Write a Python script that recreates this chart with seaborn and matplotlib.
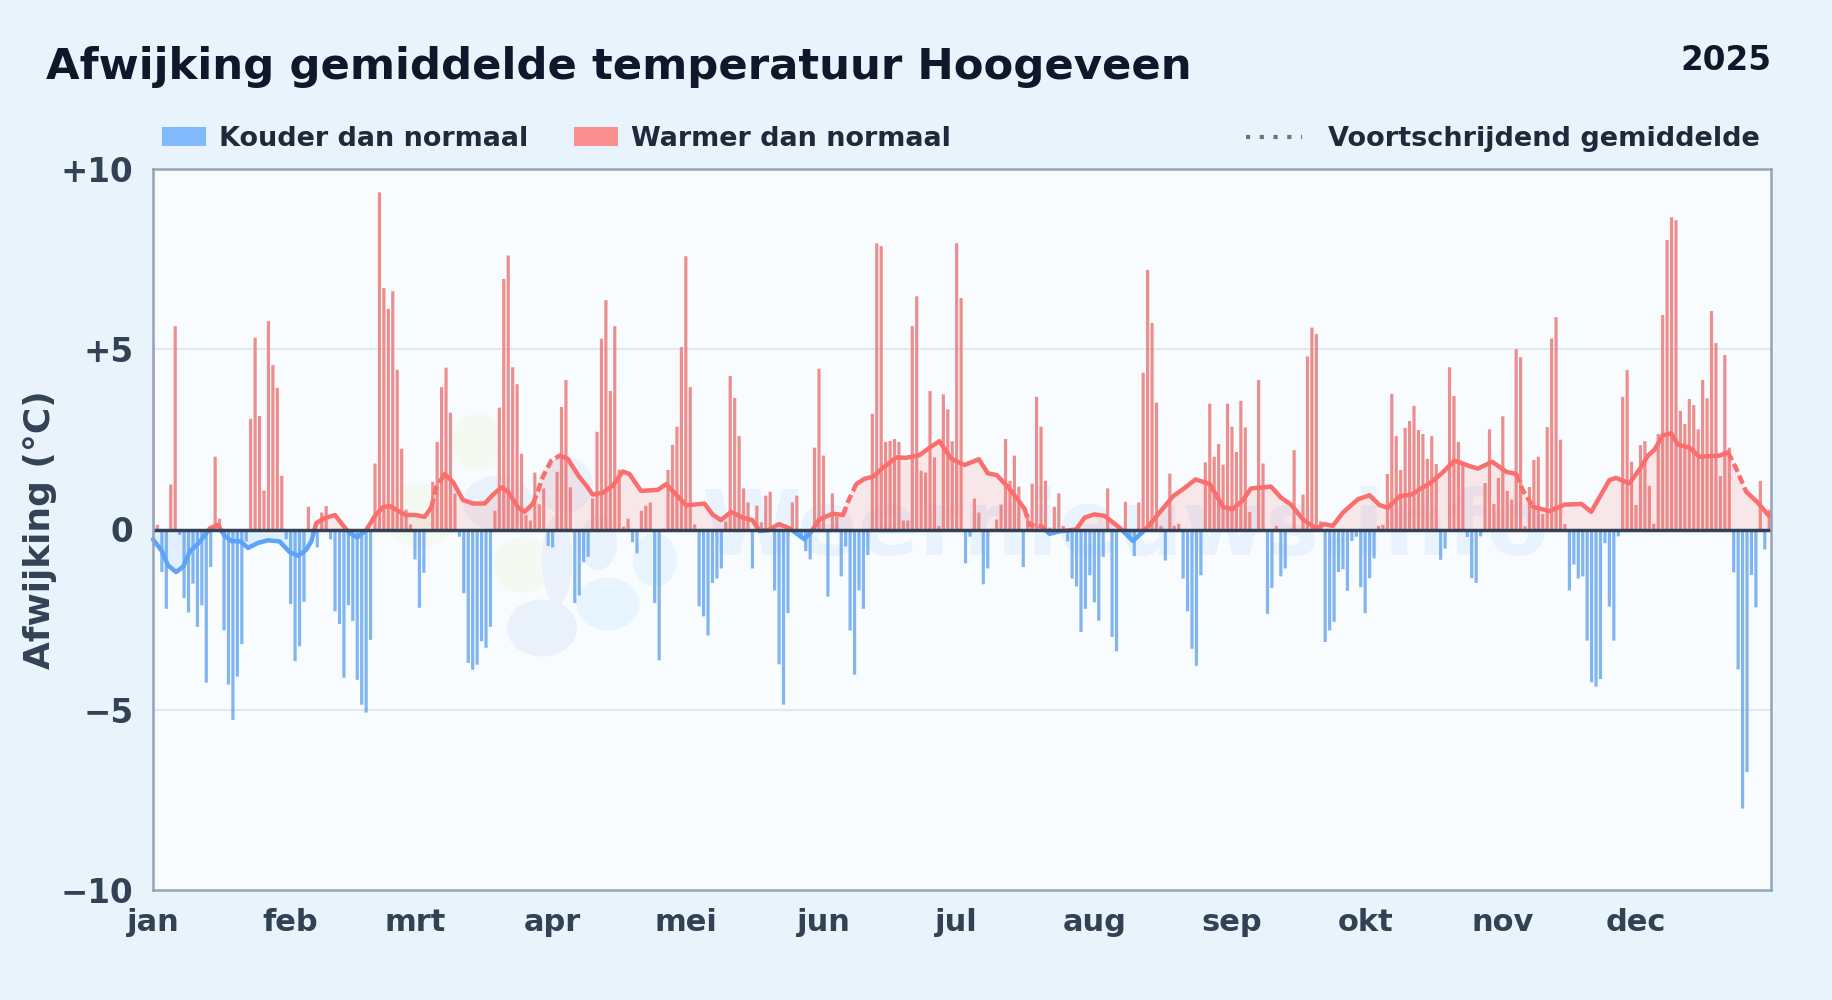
import numpy as np
import pandas as pd
import matplotlib
matplotlib.use("Agg")
import matplotlib.pyplot as plt
from matplotlib.patches import Ellipse, Patch, Rectangle
from matplotlib.lines import Line2D
import seaborn as sns

month_labels = ["jan", "feb", "mrt", "apr", "mei", "jun", "jul", "aug", "sep", "okt", "nov", "dec"]
month_starts = [0, 31, 59, 90, 120, 151, 181, 212, 243, 273, 304, 334]

jan = [5.14,0.13,-1.18,-2.2,1.25,5.64,-0.15,-1.9,-2.3,-1.5,-2.7,-2.1,-4.25,-1.04,2.02,0.3,-2.8,-4.3,-5.28,-4.08,-3.18,-0.33,3.07,5.32,3.15,1.08,5.78,4.56,3.93,1.49,-0.27]
feb = [-2.07,-3.65,-3.24,-2.0,0.63,-0.08,-0.5,0.47,0.65,-0.27,-2.27,-2.62,-4.11,-2.1,-2.54,-4.17,-4.86,-5.08,-3.06,1.83,9.35,6.7,6.12,6.61,4.43,2.24,0.55,0.14]
mrt = [-0.83,-2.17,-1.2,-0.05,1.32,2.43,3.95,4.49,3.24,1.0,-0.2,-1.77,-3.7,-3.89,-3.75,-3.1,-3.28,-2.7,0.52,3.38,6.95,7.6,4.5,4.03,2.1,0.4,0.25,1.58,0.7,1.14,-0.46]
apr = [-0.5,1.6,3.4,4.15,1.17,-2.04,-1.83,-0.91,-0.76,0.86,2.71,5.29,6.36,3.84,5.64,1.66,0.08,0.3,-0.35,-0.66,0.52,0.66,0.75,-2.04,-3.63,0.02,1.65,2.35,2.85,5.06]
mei = [7.58,3.95,0.14,-2.13,-2.41,-2.94,-1.48,-1.36,-1.08,0.22,4.26,3.65,2.59,1.14,0.75,-1.08,0.66,0.2,0.94,1.05,-1.69,-3.74,-4.86,-2.32,0.75,0.94,-0.2,-0.6,-0.83,2.27,4.46]
jun = [2.05,-1.86,1.0,0.36,-1.3,-0.47,-2.8,-4.03,-1.69,-2.2,-0.71,3.21,7.94,7.86,2.43,2.46,2.51,2.43,0.25,0.25,5.64,6.47,1.63,1.58,3.84,2.0,0.1,3.75,3.33,2.45]
jul = [7.94,6.42,-0.94,-0.2,0.86,0.47,-1.52,-1.08,0.02,0.28,0.69,2.51,1.35,2.05,1.19,-1.04,0.43,1.27,3.68,2.85,1.35,0.05,0.63,1.0,0.1,-0.33,-1.36,-1.58,-2.84,-2.2,-1.27]
aug = [-2.02,-2.53,-0.76,1.14,-2.98,-3.38,0.02,0.77,-0.22,-0.74,0.75,4.35,7.2,5.73,3.52,0.1,-0.86,1.55,0.1,0.16,-1.36,-2.27,-3.31,-3.78,-1.27,1.86,3.49,2.02,2.37,1.8,3.49]
sep = [2.85,2.15,3.57,2.83,0.49,-0.05,4.15,1.83,-2.34,-1.62,0.1,-1.3,-1.08,0.02,2.2,0.02,0.97,4.8,5.6,5.42,0.23,-3.12,-2.8,-2.56,-1.18,-1.1,-1.7,-0.32,-0.2,-1.6]
okt = [-2.32,-1.35,-0.8,0.1,0.13,1.54,3.76,2.59,1.65,2.82,3.01,3.43,2.76,2.65,1.96,2.59,1.82,-0.84,-0.53,4.5,3.7,2.43,1.8,-0.21,-1.35,-1.48,-0.19,1.29,2.78,0.71,1.43]
nov = [3.14,1.07,0.83,5.0,4.78,0.09,1.18,1.93,2.02,0.43,2.84,5.3,5.89,2.49,0.15,-1.69,-0.97,-1.36,-1.3,-3.08,-4.24,-4.36,-4.15,-0.38,-2.14,-3.08,-0.19,3.68,4.42,1.88]
dec = [0.68,2.34,2.45,1.21,0.16,2.65,5.95,8.03,8.66,8.58,3.29,2.93,3.62,3.45,2.78,4.15,3.64,6.06,5.17,1.48,4.84,2.27,-1.19,-3.88,-7.74,-6.73,-1.26,-2.16,1.35,-0.55,0.55]

ma_days = [0,2,3.4,5.2,6.8,8.3,10.5,12.8,14.6,16.1,17.6,19.7,21.4,23.7,25.9,28.5,30.8,32.7,34.5,35.7,36.2,36.8,38.7,41,43,44.3,46,48,50,51.8,53.3,55.2,57,59.3,61.2,62.7,63.8,65.7,67.6,69.8,72.1,74.7,76.6,78.5,80,82.2,83.7,85.6,86.7,87.8,89.7,91.6,93.4,96,97.6,99,101.3,103.6,105.8,107.3,109.9,113.7,115.6,117.8,120.1,124.2,126,127.9,130.2,132.8,135,136.6,138.5,141,143.4,146.7,148.2,150.1,153.1,155.4,156.7,158.4,160.3,162.1,164.4,167.4,169.6,172.6,174.9,177.1,179.8,182.8,186,188,190,192.5,194.8,196.3,197.4,200,201.9,204.2,207.9,209.8,212,214.3,217.7,220.7,223.7,226.7,229.7,232,234.8,238,241,243.2,245.5,247.3,251.8,254,256.3,259,262,263.8,265.7,268,271.4,274,276.2,278.1,280.7,283.4,287.5,290.1,293.1,296.5,298.4,301.6,304.8,307,308.5,310.8,314.5,317.9,321.7,323.9,328,329.5,332.5,334.7,336.7,338.2,340,341.9,343.4,346,348.3,352.8,354.7,356.5,358.8,361.4,364]
ma_vals = [-0.27,-0.6,-1.0,-1.18,-1.03,-0.61,-0.35,0.03,0.13,-0.17,-0.32,-0.33,-0.51,-0.37,-0.3,-0.33,-0.63,-0.73,-0.56,-0.32,-0.07,0.18,0.32,0.4,0.08,-0.1,-0.22,-0.02,0.38,0.62,0.65,0.52,0.4,0.4,0.35,0.62,1.17,1.54,1.31,0.82,0.72,0.72,0.97,1.17,1.04,0.62,0.49,0.72,1.07,1.46,1.91,2.05,1.96,1.46,1.22,0.97,1.02,1.22,1.61,1.54,1.07,1.1,1.26,0.97,0.67,0.72,0.42,0.26,0.49,0.33,0.26,-0.04,-0.02,0.15,0.03,-0.27,-0.07,0.28,0.44,0.4,0.82,1.26,1.41,1.46,1.71,2.0,1.99,2.06,2.27,2.45,1.96,1.79,1.95,1.56,1.51,1.19,0.82,0.57,0.13,0.1,-0.12,-0.05,0,0.33,0.42,0.38,0.05,-0.32,0.03,0.47,0.92,1.12,1.39,1.26,0.62,0.57,0.82,1.14,1.19,0.89,0.69,0.28,0.03,0.15,0.1,0.47,0.84,0.95,0.68,0.6,0.92,0.97,1.28,1.54,1.91,1.76,1.69,1.88,1.6,1.54,1.09,0.63,0.51,0.69,0.71,0.49,1.37,1.43,1.28,1.65,2.05,2.22,2.61,2.67,2.36,2.27,2.02,2.05,2.14,1.71,1.05,0.75,0.37]
dashed_spans = [(62.7, 65.7), (85.6, 91.6), (155.4, 158.4), (196.3, 200), (307, 310.8), (354.7, 358.8)]

sns.set_theme(style="white")
plt.rcParams["font.family"] = ["DejaVu Sans"]
plt.rcParams["font.weight"] = "bold"

values = jan + feb + mrt + apr + mei + jun + jul + aug + sep + okt + nov + dec
df = pd.DataFrame({"day": np.arange(len(values)), "afwijking": values})
df["soort"] = np.where(df["afwijking"] < 0, "koud", "warm")
ma = pd.DataFrame({"day": ma_days, "gem": ma_vals})

BG = "#E8F3FC"
fig = plt.figure(figsize=(18.32, 10), dpi=100, facecolor=BG)
ax = fig.add_axes([153/1832, 1-890/1000, (1771-153)/1832, (890-169)/1000], facecolor="#F8FCFF")

# faint logo watermark
def blob(cx, cy, w, h, col):
    ax.add_patch(Ellipse((cx/1832, 1-cy/1000), w/1832, h/1000, transform=fig.transFigure,
                         facecolor=col, edgecolor="none", zorder=0.5))
GREEN, GREY, LIGHT = "#F4FAF2", "#E9F2FA", "#E9F5FE"
blob(477, 442, 50, 58, GREEN)
blob(420, 515, 74, 64, GREEN)
blob(523, 565, 60, 56, GREEN)
blob(565, 485, 56, 56, LIGHT)
blob(608, 604, 63, 53, LIGHT)
blob(655, 560, 44, 54, LIGHT)
blob(498, 503, 70, 55, GREY)
blob(542, 628, 70, 57, GREY)
blob(557, 560, 30, 90, GREY)
blob(598, 543, 38, 54, GREY)
ax.text(1125/1832, 1-530/1000, "Weernieuws.info", transform=fig.transFigure, ha="center", va="center",
        fontsize=64.7, fontweight="bold", color="#60A5FA", alpha=0.1, zorder=0.6)

for y in (-5, 5):
    ax.axhline(y, color="#E2E8F0", lw=1.5, zorder=1)

sns.barplot(data=df, x="day", y="afwijking", hue="soort", hue_order=["koud", "warm"],
            palette={"koud": "#6FABF0", "warm": "#EC7F7F"}, native_scale=True, dodge=False,
            width=0.72, saturation=1, linewidth=0, alpha=0.88, errorbar=None, legend=False, ax=ax, zorder=2)
for bar in ax.patches:
    bar.set_snap(False)

gx, gy = np.array(ma_days, float), np.array(ma_vals, float)
ax.fill_between(gx, gy, 0, where=gy >= 0, interpolate=True, color="#F87171", alpha=0.15, lw=0, zorder=2.1)
ax.fill_between(gx, gy, 0, where=gy <= 0, interpolate=True, color="#60A5FA", alpha=0.15, lw=0, zorder=2.1)

def draw_ma(part, **kw):
    for col, rect in (("#FA6E6E", (-10, 0, 400, 12)), ("#5CA3FA", (-10, -12, 400, 12))):
        before = len(ax.lines)
        sns.lineplot(data=part, x="day", y="gem", estimator=None, sort=False, color=col, lw=3.2,
                     ax=ax, zorder=3, legend=False, **kw)
        for ln in ax.lines[before:]:
            ln.set_clip_path(Rectangle(rect[:2], rect[2], rect[3], transform=ax.transData))

edges = [ma["day"].min()]
for a, b in dashed_spans:
    edges += [a, b]
edges.append(ma["day"].max())
for k in range(0, len(edges), 2):
    draw_ma(ma[(ma.day >= edges[k]) & (ma.day <= edges[k+1])], solid_capstyle="round", solid_joinstyle="round")
for a, b in dashed_spans:
    part = ma[(ma.day >= a) & (ma.day <= b)]
    draw_ma(part, dashes=False, linestyle=(0, (2.0, 0.9)))

ax.axhline(0, color="#334155", lw=2.5, zorder=4)

ax.set_xlim(0, 364.4)
ax.set_ylim(-10, 10)
ax.set_xticks(month_starts, month_labels)
ax.set_yticks([-10, -5, 0, 5, 10], ["\u221210", "\u22125", "0", "+5", "+10"])
ax.tick_params(axis="x", length=0, pad=13, labelsize=22, labelcolor="#334155")
ax.tick_params(axis="y", length=0, pad=14, labelsize=23.5, labelcolor="#334155")
ax.set_xlabel("")
ax.set_ylabel("")
ax.grid(False)
for s in ax.spines.values():
    s.set_color("#94A3B8")
    s.set_linewidth(1.8)
    s.set_visible(True)
    s.set_zorder(5)

fig.text(40/1832, 1-530/1000, "Afwijking (\u00b0C)", rotation=90, ha="center", va="center",
         fontsize=25.9, fontweight="bold", color="#334155")
fig.text(46/1832, 1-67/1000, "Afwijking gemiddelde temperatuur Hoogeveen", ha="left", va="center",
         fontsize=31.2, fontweight="bold", color="#0F172A")
fig.text(1771/1832, 1-60/1000, "2025", ha="right", va="center", fontsize=23.5, fontweight="bold", color="#0F172A")

left = fig.legend(handles=[Patch(facecolor="#82B8FC", edgecolor="none"), Patch(facecolor="#F98F8F", edgecolor="none")],
                  labels=["Kouder dan normaal", "Warmer dan normaal"], ncol=2, frameon=False, fontsize=19.45,
                  loc="center left", bbox_to_anchor=(162/1832, 1-139/1000), borderaxespad=0, borderpad=0,
                  handlelength=1.63, handleheight=0.71, handletextpad=0.49, columnspacing=1.68,
                  labelcolor="#1E293B")
right = fig.legend(handles=[Line2D([0], [0], color="#64748B", lw=3, linestyle=(0, (1, 2.3)))],
                   labels=["Voortschrijdend gemiddelde"], frameon=False, fontsize=19.5,
                   loc="center right", bbox_to_anchor=(1760/1832, 1-139/1000), borderaxespad=0, borderpad=0,
                   handlelength=2.1, handletextpad=0.95, labelcolor="#1E293B")

fig.savefig("out.png", dpi=100, facecolor=BG)
